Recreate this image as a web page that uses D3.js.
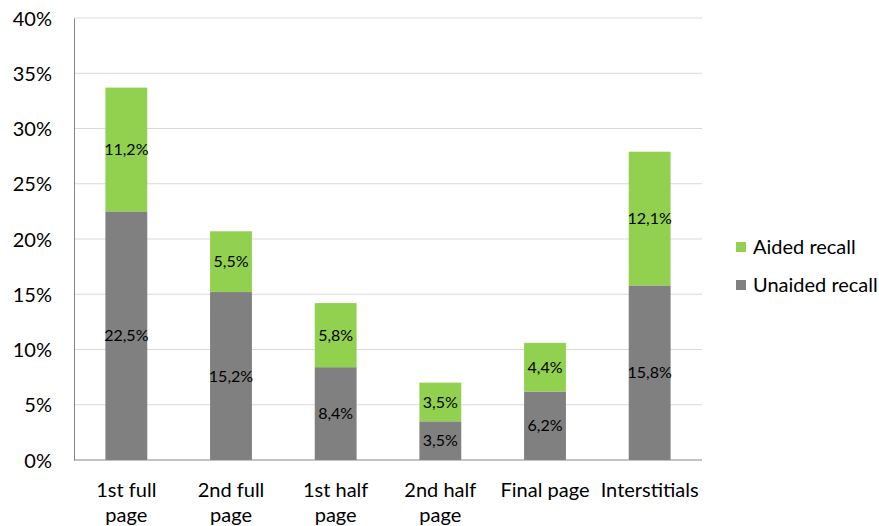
<!DOCTYPE html>
<html>
<head>
<meta charset="utf-8">
<script src="https://cdn.jsdelivr.net/npm/d3@7"></script>
<style>
  html, body { margin: 0; padding: 0; background: #fff; }
  svg text { font-family: Lato, "Open Sans", sans-serif; fill: #000; }
</style>
</head>
<body>
<svg id="chart" width="879" height="526"></svg>
<script>
// Recall rate by ad position, stacked: unaided at the base, aided on top
const categories = [["1st full", "page"], ["2nd full", "page"], ["1st half", "page"], ["2nd half", "page"], ["Final page"], ["Interstitials"]];
const unaided = [22.5, 15.2, 8.4, 3.5, 6.2, 15.8];
const aided = [11.2, 5.5, 5.8, 3.5, 4.4, 12.1];
const seriesNames = ["Aided recall", "Unaided recall"];
const yTicks = [0, 5, 10, 15, 20, 25, 30, 35, 40];

const colors = { unaided: "#808080", aided: "#92D050" };
const bigFont = "20px";
const labelFont = "16px";

const svg = d3.select("#chart");
const margin = { left: 74, right: 177, top: 18, bottom: 66 };
const W = 879, H = 526;

const x = d3.scaleBand()
  .domain(d3.range(categories.length))
  .range([margin.left, W - margin.right])
  .paddingInner(0.6)
  .paddingOuter(0.3);

const y = d3.scaleLinear().domain([0, 40]).range([H - margin.bottom, margin.top]);

// Horizontal gridlines
svg.append("g")
  .selectAll("line")
  .data(yTicks.filter(d => d > 0))
  .join("line")
  .attr("x1", margin.left).attr("x2", W - margin.right)
  .attr("y1", d => y(d)).attr("y2", d => y(d))
  .attr("stroke", "#D9D9D9").attr("stroke-width", 1);

// Y axis
const yAxis = svg.append("g")
  .attr("transform", `translate(${margin.left},0)`)
  .call(d3.axisLeft(y).tickValues(yTicks).tickFormat(d => d + "%").tickSize(0).tickPadding(22));
yAxis.select(".domain").attr("stroke", "#868686");
yAxis.selectAll("text").style("font-size", bigFont).style("font-family", null).attr("dy", "0.35em");

// Stacked bars
const rows = unaided.map((u, i) => ({ i, u, a: aided[i] }));

svg.append("g").selectAll("rect")
  .data(rows).join("rect")
  .attr("x", d => x(d.i)).attr("width", x.bandwidth())
  .attr("y", d => y(d.u)).attr("height", d => y(0) - y(d.u))
  .attr("fill", colors.unaided);

svg.append("g").selectAll("rect")
  .data(rows).join("rect")
  .attr("x", d => x(d.i)).attr("width", x.bandwidth())
  .attr("y", d => y(d.u + d.a)).attr("height", d => y(d.u) - y(d.u + d.a))
  .attr("fill", colors.aided);

// Value labels centred in each segment
const fmt = v => v.toFixed(1).replace(".", ",") + "%";
const labels = svg.append("g").style("font-size", labelFont).attr("text-anchor", "middle");
labels.selectAll("text.u").data(rows).join("text")
  .attr("class", "u")
  .attr("x", d => x(d.i) + x.bandwidth() / 2)
  .attr("y", d => y(d.u / 2)).attr("dy", "0.35em")
  .text(d => fmt(d.u));
labels.selectAll("text.a").data(rows).join("text")
  .attr("class", "a")
  .attr("x", d => x(d.i) + x.bandwidth() / 2)
  .attr("y", d => y(d.u + d.a / 2)).attr("dy", "0.35em")
  .text(d => fmt(d.a));

// X axis baseline
svg.append("line")
  .attr("x1", margin.left).attr("x2", W - margin.right)
  .attr("y1", y(0)).attr("y2", y(0))
  .attr("stroke", "#868686");

// Category labels (multi-line)
const catG = svg.append("g").style("font-size", bigFont).attr("text-anchor", "middle");
categories.forEach((lines, i) => {
  const t = catG.append("text")
    .attr("x", x(i) + x.bandwidth() / 2)
    .attr("y", y(0) + 37);
  lines.forEach((ln, k) => {
    t.append("tspan")
      .attr("x", x(i) + x.bandwidth() / 2)
      .attr("dy", k === 0 ? 0 : 25)
      .text(ln);
  });
});

// Legend
const legend = svg.append("g").attr("transform", "translate(736,242)");
const legendColors = [colors.aided, colors.unaided];
seriesNames.forEach((name, k) => {
  const g = legend.append("g").attr("transform", `translate(0,${k * 38})`);
  g.append("rect").attr("width", 10).attr("height", 10).attr("fill", legendColors[k]);
  g.append("text").attr("x", 17).attr("y", 5).attr("dy", "0.35em")
    .style("font-size", bigFont).text(name);
});
</script>
</body>
</html>
